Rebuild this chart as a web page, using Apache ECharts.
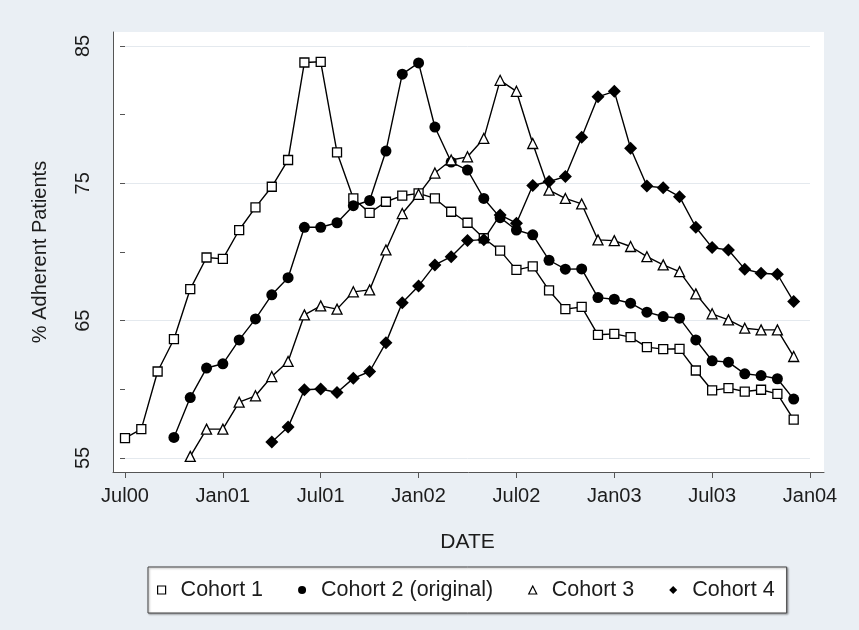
<!DOCTYPE html>
<html>
<head>
<meta charset="utf-8">
<script src="https://cdn.jsdelivr.net/npm/echarts@6/dist/echarts.min.js"></script>
<style>
  html, body { margin: 0; padding: 0; background: #eaeff4; }
  #chart { width: 859px; height: 630px; }
</style>
</head>
<body>
<div id="chart"></div>
<script>
// Monthly adherence by cohort; month 0 = July 2000
const tickLabels = ['Jul00', 'Jan01', 'Jul01', 'Jan02', 'Jul02', 'Jan03', 'Jul03', 'Jan04'];
const seriesNames = ['Cohort 1', 'Cohort 2 (original)', 'Cohort 3', 'Cohort 4'];

// first month index of each cohort
const cohort1Start = 0;
const cohort2Start = 3;
const cohort3Start = 4;
const cohort4Start = 9;

const cohort1 = [56.45, 57.1, 61.3, 63.65, 67.3, 69.6, 69.5, 71.6, 73.25, 74.75,
  76.7, 83.8, 83.85, 77.25, 73.9, 72.85, 73.66, 74.1, 74.27, 73.9,
  72.93, 72.13, 71.0, 70.1, 68.7, 68.95, 67.2, 65.84, 66.0, 63.97,
  64.04, 63.8, 63.07, 62.93, 62.95, 61.37, 59.92, 60.09, 59.84, 59.97,
  59.67, 57.8];

const cohort2 = [56.5, 59.4, 61.55, 61.86, 63.6, 65.13, 66.88, 68.13, 71.8, 71.8,
  72.13, 73.37, 73.75, 77.35, 82.95, 83.77, 79.1, 76.55, 75.97, 73.9,
  72.5, 71.6, 71.25, 69.4, 68.75, 68.77, 66.68, 66.56, 66.27, 65.62,
  65.3, 65.18, 63.6, 62.08, 61.98, 61.13, 61.0, 60.77, 59.29];

const cohort3 = [55.12, 57.1, 57.1, 59.07, 59.53, 60.93, 62.03, 65.42, 66.08, 65.84,
  67.1, 67.24, 70.15, 72.8, 74.2, 75.75, 76.7, 76.93, 78.27, 82.5,
  81.7, 77.9, 74.5, 73.9, 73.5, 70.88, 70.83, 70.4, 69.66, 69.06,
  68.57, 66.95, 65.5, 65.06, 64.45, 64.33, 64.33, 62.39];

const cohort4 = [56.16, 57.25, 59.97, 60.02, 59.77, 60.8, 61.3, 63.4, 66.3, 67.53,
  69.06, 69.66, 70.83, 70.9, 72.7, 72.1, 74.84, 75.13, 75.5, 78.36,
  81.3, 81.7, 77.55, 74.8, 74.68, 74.03, 71.8, 70.32, 70.15, 68.75,
  68.45, 68.38, 66.39];

function pairs(start, values) {
  return values.map((v, i) => [start + i, v]);
}

const ink = '#1c1c1c';
const axisInk = '#555555';
const font = '"Liberation Sans", Arial, sans-serif';

const hollow = { color: '#ffffff', borderColor: '#000000', borderWidth: 1.3 };
const filled = { color: '#000000', borderColor: '#000000', borderWidth: 0 };

function lineSeries(name, start, values, symbol, size, itemStyle) {
  return {
    name: name,
    type: 'line',
    xAxisIndex: 1,
    yAxisIndex: 1,
    data: pairs(start, values),
    symbol: symbol,
    symbolSize: size,
    showAllSymbol: true,
    itemStyle: itemStyle,
    lineStyle: { color: '#000000', width: 1.4 },
    emphasis: { disabled: true },
    animation: false
  };
}

// frame axis: only its line is drawn, along the edge of the white plot region
function frameAxis(gridIndex) {
  return {
    type: 'value', gridIndex: gridIndex, min: 0, max: 1,
    axisLine: { show: true, lineStyle: { color: axisInk, width: 1 } },
    axisTick: { show: false }, axisLabel: { show: false }, splitLine: { show: false }
  };
}

const chart = echarts.init(document.getElementById('chart'), null, { renderer: 'canvas' });

chart.setOption({
  backgroundColor: '#eaeff4',
  textStyle: { fontFamily: font, color: ink },
  grid: [
    { left: 113, right: 35, top: 32, bottom: 158, show: true, backgroundColor: '#ffffff', borderWidth: 0 },
    { left: 125, right: 49, top: 46, bottom: 172 }
  ],
  xAxis: [
    frameAxis(0),
    {
      type: 'value',
      gridIndex: 1,
      z: 1,
      min: 0,
      max: 42,
      interval: 6,
      offset: 14,
      name: 'DATE',
      nameLocation: 'middle',
      nameGap: 60,
      nameTextStyle: { fontSize: 21, color: ink, fontFamily: font },
      axisLine: { show: false },
      axisTick: { show: true, length: 6, lineStyle: { color: axisInk } },
      axisLabel: {
        fontSize: 20, color: ink, margin: 14, fontFamily: font,
        formatter: v => tickLabels[Math.round(v / 6)]
      },
      splitLine: { show: false }
    }
  ],
  yAxis: [
    frameAxis(0),
    {
      type: 'value',
      gridIndex: 1,
      z: 1,
      min: 55,
      max: 85,
      interval: 10,
      offset: 12,
      name: '% Adherent Patients',
      nameLocation: 'middle',
      nameRotate: 90,
      nameGap: 63,
      nameTextStyle: { fontSize: 20, color: ink, fontFamily: font },
      axisLine: { show: false },
      axisTick: { show: true, length: 5, lineStyle: { color: axisInk } },
      minorTick: { show: true, splitNumber: 2, length: 5, lineStyle: { color: axisInk } },
      axisLabel: { fontSize: 20, color: ink, rotate: 90, margin: 20, fontFamily: font },
      splitLine: { show: true, lineStyle: { color: '#e4e9ee', width: 1 } }
    }
  ],
  legend: {
    left: 148,
    top: 567,
    orient: 'horizontal',
    backgroundColor: '#ffffff',
    borderColor: '#444444',
    borderWidth: 1,
    shadowColor: 'rgba(0,0,0,0.35)',
    shadowOffsetX: 1,
    shadowOffsetY: 1,
    shadowBlur: 2,
    padding: [12, 12, 12, 9],
    itemGap: 35,
    itemWidth: 8,
    itemHeight: 8,
    textStyle: { fontSize: 21.5, color: ink, fontFamily: font, padding: [0, 0, 0, 10] },
    selectedMode: false,
    data: [
      { name: seriesNames[0], icon: 'rect', itemStyle: { color: '#fff', borderColor: '#000', borderWidth: 1.2 } },
      { name: seriesNames[1], icon: 'circle', itemStyle: { color: '#000', borderWidth: 0 } },
      { name: seriesNames[2], icon: 'triangle', itemStyle: { color: '#fff', borderColor: '#000', borderWidth: 1.2 } },
      { name: seriesNames[3], icon: 'diamond', itemStyle: { color: '#000', borderWidth: 0 } }
    ]
  },
  series: [
    lineSeries(seriesNames[0], cohort1Start, cohort1, 'rect', 9, hollow),
    lineSeries(seriesNames[1], cohort2Start, cohort2, 'circle', 11, filled),
    lineSeries(seriesNames[2], cohort3Start, cohort3, 'triangle', 10, hollow),
    lineSeries(seriesNames[3], cohort4Start, cohort4, 'diamond', 13, filled)
  ]
});
</script>
</body>
</html>
